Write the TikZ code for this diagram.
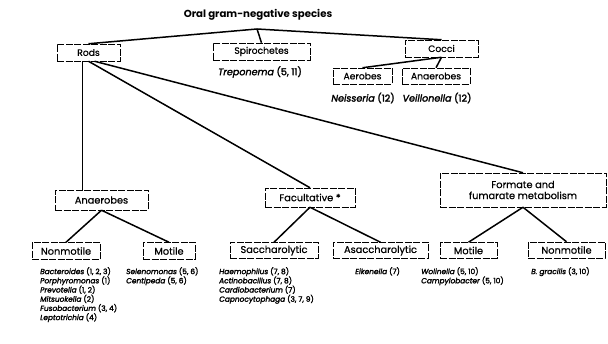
\documentclass[tikz,border=0pt]{standalone}
\usepackage{fontspec}
\setmainfont{Poppins}
\newfontfamily\heavyf[FakeBold=2.2]{Poppins}
\newfontfamily\medf[FakeBold=0.6]{Poppins}
\begin{document}
\begin{tikzpicture}[x=1pt,y=-1pt,
  box/.style={draw, line width=0.5pt, dash pattern=on 7pt off 1.5pt, inner sep=0pt, font=\medf\fontsize{9.8}{11}\selectfont, align=center},
  topbox/.style={box, font=\medf\fontsize{9.2}{10}\selectfont},
  conn/.style={line width=1.5pt},
  lst/.style={font=\heavyf\fontsize{7.4}{9.2}\selectfont, anchor=north west, align=left, inner sep=0pt},
  gen/.style={font=\heavyf\fontsize{9.6}{10}\selectfont, inner sep=0pt}
]
\useasboundingbox (0,0) rectangle (608,344);
\node (title) at (258,15) {\fontsize{10.2}{11}\selectfont\bfseries Oral gram-negative species};
\coordinate (apex) at (257,29);

\node[topbox, minimum width=63pt, minimum height=17pt] (rods) at (88.5,52.5) {Rods};
\node[topbox, minimum width=97pt, minimum height=17pt] (spiro) at (261.5,51.5) {Spirochetes};
\node[topbox, minimum width=73pt, minimum height=17pt] (cocci) at (441.5,48.5) {Cocci};
\node[gen] (trep) at (260,72) {\textit{Treponema} (5, 11)};

\node[topbox, minimum width=59pt, minimum height=16pt] (aer) at (362.5,76) {Aerobes};
\node[topbox, minimum width=68pt, minimum height=16pt] (anaer) at (436,76) {Anaerobes};
\node[gen] (neis) at (363,98) {\textit{Neisseria} (12)};
\node[gen] (veil) at (437,98) {\textit{Veillonella} (12)};

\node[box, minimum width=93pt, minimum height=20pt] (anb) at (101.5,200) {Anaerobes};
\node[box, minimum width=90pt, minimum height=19pt] (fac) at (310,197.5) {Facultative *};
\node[box, minimum width=166pt, minimum height=34pt] (form) at (523,190) {Formate and\\fumarate metabolism};

\node[box, minimum width=68pt, minimum height=17pt] (nm1) at (66,251) {Nonmotile};
\node[box, minimum width=52pt, minimum height=17pt] (mo1) at (169,251) {Motile};
\node[box, minimum width=88pt, minimum height=16pt] (sac) at (274,250.5) {Saccharolytic};
\node[box, minimum width=95pt, minimum height=16pt] (asac) at (380.5,250.5) {Asaccharolytic};
\node[box, minimum width=57pt, minimum height=16pt] (mo2) at (468.5,250.5) {Motile};
\node[box, minimum width=77pt, minimum height=16pt] (nm2) at (566.5,250) {Nonmotile};

\draw[conn] (apex) -- (rods.north);
\draw[conn] (apex) -- (spiro.north);
\draw[conn] (apex) -- (cocci.north);
\draw[conn] (cocci.south) -- (aer.north);
\draw[conn] (cocci.south) -- (anaer.north);
\draw[conn] ([xshift=-6pt]rods.south) -- ([xshift=-6pt]rods.south |- anb.north);
\draw[conn] (rods.south) -- (fac.north);
\draw[conn] ([xshift=6pt]rods.south) -- (form.north);
\draw[conn] (anb.south) -- (nm1.north);
\draw[conn] (anb.south) -- (mo1.north);
\draw[conn] (fac.south) -- (sac.north);
\draw[conn] (fac.south) -- (asac.north);
\draw[conn] (form.south) -- (mo2.north);
\draw[conn] (form.south) -- (nm2.north);

\node[lst] (l1) at (40,267) {\textit{Bacteroides} (1, 2, 3)\\\textit{Porphyromonas} (1)\\\textit{Prevotella} (1, 2)\\\textit{Mitsuokella} (2)\\\textit{Fusobacterium} (3, 4)\\\textit{Leptotrichia} (4)};
\node[lst] (l2) at (126,267) {\textit{Selenomonas} (5, 6)\\\textit{Centipeda} (5, 6)};
\node[lst] (l3) at (219,267) {\textit{Haemophilus} (7, 8)\\\textit{Actinobacillus} (7, 8)\\\textit{Cardiobacterium} (7)\\\textit{Capnocytophaga} (3, 7, 9)};
\node[lst] (l4) at (355,267) {\textit{Eikenella} (7)};
\node[lst] (l5) at (421,267) {\textit{Wolinella} (5, 10)\\\textit{Campylobacter} (5, 10)};
\node[lst] (l6) at (531,267) {\textit{B. gracilis} (3, 10)};
\end{tikzpicture}
\end{document}
